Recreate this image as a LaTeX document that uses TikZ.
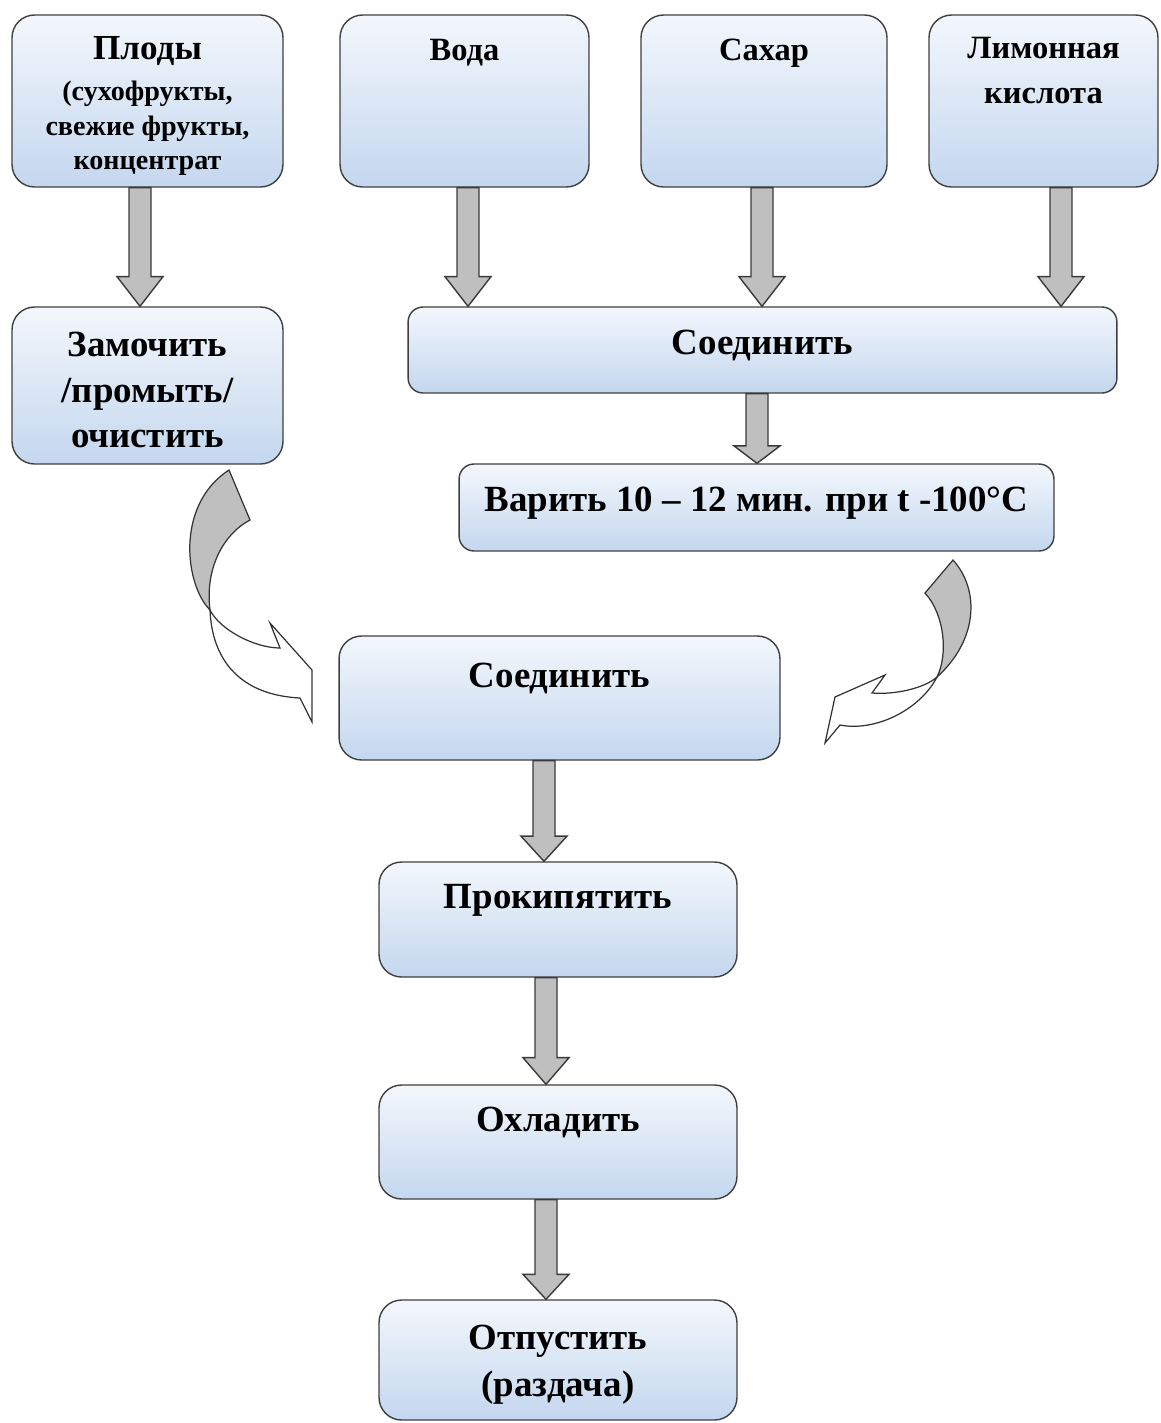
\documentclass[tikz,border=0pt]{standalone}
\usepackage{fontspec}
\setmainfont{Liberation Serif}
\usetikzlibrary{positioning,calc}

\definecolor{boxtop}{HTML}{F3F7FC}
\definecolor{boxbot}{HTML}{C4D7EF}
\definecolor{boxedge}{HTML}{3F3F3F}
\definecolor{arrfill}{HTML}{BFBFBF}
\definecolor{arredge}{HTML}{3A3A3A}

% block arrow between two anchors, head = quarter of the length
\newcommand{\flow}[2]{%
  \path let \p1=(#1), \p2=(#2), \n1={0.25*(\y1-\y2)} in
    [fill=arrfill, draw=arredge, line width=0.8pt, line join=miter]
    (\x1-0.22cm,\y1) -- (\x1-0.22cm,\y2+\n1) -- (\x1-0.46cm,\y2+\n1)
    -- (\x1,\y2) -- (\x1+0.46cm,\y2+\n1) -- (\x1+0.22cm,\y2+\n1)
    -- (\x1+0.22cm,\y1) -- cycle;}

\begin{document}
\begin{tikzpicture}[
      x=0.02cm, y=-0.02cm,
      stage/.style={draw=boxedge, line width=0.8pt, rounded corners=0.45cm,
                    top color=boxtop, bottom color=boxbot},
      thin/.style={rounded corners=0.3cm},
      txt/.style={align=center, inner sep=0pt,
                  font=\bfseries\fontsize{21}{25}\selectfont},
      ingr/.style={txt, font=\bfseries\fontsize{18.5}{26}\selectfont},
      curl/.style={draw=black!80, line width=0.7pt, line join=miter}
    ]
    \useasboundingbox (0,0) rectangle (1160,1423);

    % ingredients
    \node[stage, minimum width=5.42cm, minimum height=3.44cm] (plod) at (147.5,101) {};
    \node[stage, minimum width=4.98cm, minimum height=3.44cm] (voda) at (464.5,101) {};
    \node[stage, minimum width=4.92cm, minimum height=3.44cm] (sahar) at (764,101) {};
    \node[stage, minimum width=4.58cm, minimum height=3.44cm] (limon) at (1043.5,101) {};

    % processing
    \node[stage, minimum width=5.42cm, minimum height=3.14cm] (zam) at (147.5,385.5) {};
    \node[stage, thin, minimum width=14.18cm, minimum height=1.72cm] (soedA) at (762.5,350) {};
    \node[stage, thin, minimum width=11.9cm, minimum height=1.74cm] (var) at (756.5,507.5) {};
    \node[stage, minimum width=8.82cm, minimum height=2.48cm] (soedB) at (559.5,698) {};
    \node[stage, minimum width=7.16cm, minimum height=2.3cm] (prok) at (558,919.5) {};
    \node[stage, minimum width=7.16cm, minimum height=2.28cm] (ohl) at (558,1142) {};
    \node[stage, minimum width=7.16cm, minimum height=2.4cm] (otp) at (558,1360) {};

    % texts
    \node[txt, below=12.5pt of plod.north, font=\bfseries\fontsize{16}{19.5}\selectfont] (plodt)
      {{\fontsize{20}{19.5}\selectfont Плоды}\\[4pt](сухофрукты,\\свежие фрукты,\\концентрат};
    \node[ingr, below=13.7pt of voda.north] (vodat) {Вода};
    \node[ingr, below=13.7pt of sahar.north] (sahart) {Сахар};
    \node[ingr, below=12.6pt of limon.north] (limont) {Лимонная\\кислота};
    \node[txt, below=14.5pt of zam.north, font=\bfseries\fontsize{21}{26}\selectfont] (zamt)
      {Замочить\\/промыть/\\очистить};
    \node[txt, below=13.4pt of soedA.north] (soedAt) {Соединить};
    \node[txt, below=13.4pt of var.north] (vart) {Варить 10 – 12 мин. при t -100°C};
    \node[txt, below=15.7pt of soedB.north] (soedBt) {Соединить};
    \node[txt, below=13pt of prok.north] (prokt) {Прокипятить};
    \node[txt, below=13pt of ohl.north] (ohlt) {Охладить};
    \node[txt, below=14.5pt of otp.north, font=\bfseries\fontsize{21}{26.5}\selectfont] (otpt)
      {Отпустить\\(раздача)};

    % straight arrows
    \flow{[xshift=-0.15cm]plod.south}{zam.north}
    \flow{[xshift=0.07cm]voda.south}{soedA.north}
    \flow{[xshift=-0.04cm]sahar.south}{soedA.north}
    \flow{[xshift=0.35cm]limon.south}{soedA.north}
    \flow{[xshift=-0.11cm]soedA.south}{var.north}
    \flow{[xshift=-0.31cm]soedB.south}{prok.north}
    \flow{[xshift=-0.24cm]prok.south}{ohl.north}
    \flow{[xshift=-0.24cm]ohl.south}{otp.north}

    % curved arrow, left
    \draw[curl, fill=arrfill] (229,470) -- (250,520)
      .. controls (222,535) and (205,570) .. (210,610)
      .. controls (185,585) and (175,505) .. cycle;
    \draw[curl, fill=white] (210,610) .. controls (220,630) and (255,648) .. (280,648)
      -- (270,623) -- (312,670) -- (312,722) -- (300,698)
      .. controls (240,695) and (212,660) .. cycle;

    % curved arrow, right
    \draw[curl, fill=arrfill] (953,560) -- (925,593)
      .. controls (945,615) and (948,655) .. (937,677)
      .. controls (978,640) and (980,590) .. cycle;
    \draw[curl, fill=white] (937,677) .. controls (925,688) and (895,695) .. (872,693)
      -- (885,675) -- (835,697) -- (825,743) -- (840,725)
      .. controls (875,732) and (920,710) .. cycle;
  \end{tikzpicture}
\end{document}
